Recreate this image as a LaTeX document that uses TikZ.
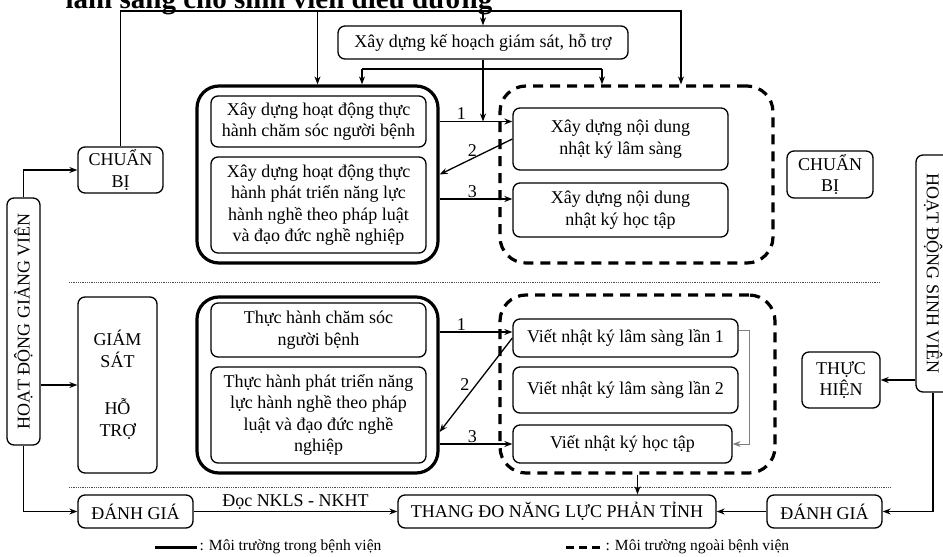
\documentclass[tikz,border=0pt]{standalone}
\usepackage{fontspec}
\setmainfont{Liberation Serif}
\usetikzlibrary{arrows.meta}

\begin{document}
\begin{tikzpicture}[x=1pt, y=-1pt, line width=1.3pt,
    >={Stealth[length=8pt,width=6pt]},
    every node/.style={font=\fontsize{18}{21.5}\selectfont},
    box/.style={draw, line width=1.3pt, rounded corners=7pt, align=center, inner sep=0pt},
    bigbox/.style={draw, line width=3.2pt, rounded corners=22pt, inner sep=0pt},
    envbox/.style={draw, line width=3.2pt, dash pattern=on 10pt off 7pt, rounded corners=26pt, inner sep=0pt},
    sep/.style={densely dotted, line width=0.8pt, gray!60!black},
    num/.style={inner sep=1pt},
    legend/.style={right, inner sep=1pt, font=\fontsize{15.5}{18}\selectfont}]
  \useasboundingbox (0,0) rectangle (943,557);

  % 1. Heading, cut by the top edge
  \node[anchor=base west, inner sep=0pt, font=\bfseries\fontsize{29}{34}\selectfont] (title) at (65,8)
    {lâm sàng cho sinh viên điều dưỡng};

  % 2. Side columns and stage boxes
  \node[box, minimum width=33pt, minimum height=247pt] (gv) at (23.5,321.5) {\rotatebox{90}{HOẠT ĐỘNG GIẢNG VIÊN}};
  \node[box, minimum width=34pt, minimum height=237pt] (sv) at (933,273.5) {\rotatebox{-90}{HOẠT ĐỘNG SINH VIÊN}};
  \node[box, minimum width=85pt, minimum height=46pt] (cbL) at (120.5,170) {CHUẨN\\BỊ};
  \node[box, minimum width=79pt, minimum height=176pt] (gs) at (117.5,385) {GIÁM\\SÁT\\[26pt]HỖ\\TRỢ};
  \node[box, minimum width=115pt, minimum height=33pt] (dgL) at (135.5,511.5) {ĐÁNH GIÁ};
  \node[box, minimum width=86pt, minimum height=47pt] (cbR) at (830,174.5) {CHUẨN\\BỊ};
  \node[box, minimum width=78pt, minimum height=56pt] (th) at (841,380) {THỰC\\HIỆN};
  \node[box, minimum width=115pt, minimum height=33pt] (dgR) at (824.5,511.5) {ĐÁNH GIÁ};
  \node[box, minimum width=318pt, minimum height=33pt] (thang) at (557,511.5) {THANG ĐO NĂNG LỰC PHẢN TỈNH};
  \node[box, minimum width=290pt, minimum height=33pt] (plan) at (483,42.5) {Xây dựng kế hoạch giám sát, hỗ trợ};

  % 3. Preparation stage
  \node[bigbox, minimum width=241pt, minimum height=177pt] (bk1) at (317.5,174.5) {};
  \node[box, minimum width=215pt, minimum height=51pt] (hd1) at (318.5,121.5)
    {Xây dựng hoạt động thực\\hành chăm sóc người bệnh};
  \node[box, minimum width=215pt, minimum height=96pt] (hd2) at (318.5,205)
    {Xây dựng hoạt động thực\\hành phát triển năng lực\\hành nghề theo pháp luật\\và đạo đức nghề nghiệp};
  \node[envbox, minimum width=273pt, minimum height=177pt] (mt1) at (636.5,174.5) {};
  \node[box, minimum width=215pt, minimum height=62pt] (nd1) at (620.5,139) {Xây dựng nội dung\\nhật ký lâm sàng};
  \node[box, minimum width=215pt, minimum height=54pt] (nd2) at (620.5,210) {Xây dựng nội dung\\nhật ký học tập};

  % 4. Supervision stage
  \node[bigbox, minimum width=241pt, minimum height=176pt] (bk2) at (317.5,385) {};
  \node[box, minimum width=215pt, minimum height=54pt] (th1) at (318.5,330) {Thực hành chăm sóc\\người bệnh};
  \node[box, minimum width=215pt, minimum height=96pt] (th2) at (318.5,415)
    {Thực hành phát triển năng\\lực hành nghề theo pháp\\luật và đạo đức nghề\\nghiệp};
  \node[envbox, minimum width=275pt, minimum height=178pt] (mt2) at (637.5,384) {};
  \node[box, minimum width=225pt, minimum height=38pt] (vk1) at (625.5,338) {Viết nhật ký lâm sàng lần 1};
  \node[box, minimum width=225pt, minimum height=46pt] (vk2) at (625.5,390) {Viết nhật ký lâm sàng lần 2};
  \node[box, minimum width=219pt, minimum height=38pt] (vk3) at (622.5,444) {Viết nhật ký học tập};

  % 5. Top bus and plan branches
  \coordinate (busL) at (120.5,11);
  \coordinate (busR) at (681,11);
  \draw[->] (cbL.north) -- (busL) -- (busR) -- (busR |- mt1.north);
  \draw[->] (bk1.north |- busL) -- (bk1.north);
  \draw[->] (plan.north |- busL) -- (plan.north);
  \coordinate (brL) at (362,69);
  \coordinate (brR) at (602,69);
  \draw (brL) -- (brR);
  \draw[->] (brL) -- (brL |- bk1.north);
  \draw[->] (brR) -- (brR |- mt1.north);
  \draw[->] (plan.south) -- (plan.south |- hd1.east);

  % 6. Numbered links
  \draw[->] (bk1.east |- hd1.east) -- node[num, pos=0.3, above] {1} (nd1.west |- hd1.east);
  \draw[->] (nd1.west) -- node[num, pos=0.55, above] {2} (bk1.east);
  \draw[->] (bk1.east |- 0,199) -- node[num, pos=0.45, above] {3} (nd2.west |- 0,199);
  \draw[->] (bk2.east |- 0,332) -- node[num, pos=0.3, above] {1} (vk1.west |- 0,332);
  \draw[->] (vk1.west) -- node[num, pos=0.5, left=5pt] {2} (bk2.east |- 0,432);
  \draw[->] (bk2.east |- vk3.west) -- node[num, pos=0.45, above] {3} (vk3.west);
  \draw[->, gray, line width=0.8pt] (vk1.east |- 0,330) -| (749,0 |- vk3.east) -- (vk3.east);
  \draw[->] (mt2.south) -- (mt2.south |- thang.north);

  % 7. Side columns to stages
  \draw[->] (gv.north) |- (cbL.west);
  \draw[->] (gv.east |- gs.west) -- (gs.west);
  \draw[->] (gv.south) |- (dgL.west);
  \draw[->] (dgL.east) -- node[above, inner sep=1pt] {Đọc NKLS - NKHT} (thang.west);
  \draw[->] (sv.west |- th.east) -- (th.east);
  \draw[->] (sv.south) |- (dgR.east);
  \draw[->] (dgR.west) -- (thang.east);

  % 8. Separators and legend
  \draw[sep] (69,282) -- (880,282);
  \draw[sep] (69,487) -- (890,487);
  \coordinate (lg1) at (155,547);
  \coordinate (lg2) at (566,547);
  \draw[line width=3pt] (lg1) -- ++(42,0) node[legend] {: Môi trường trong bệnh viện};
  \draw[line width=3pt, dash pattern=on 8pt off 5pt] (lg2) -- ++(37,0) node[legend] {: Môi trường ngoài bệnh viện};
\end{tikzpicture}
\end{document}
